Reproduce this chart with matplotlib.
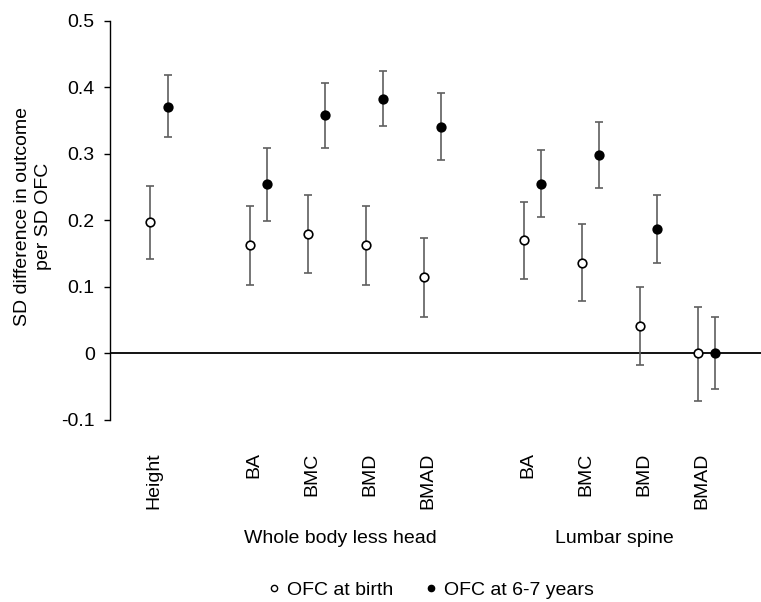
import matplotlib
matplotlib.use("Agg")
import matplotlib.pyplot as plt
import matplotlib.transforms as mtransforms
from matplotlib.lines import Line2D
import numpy as np

plt.rcParams['font.family'] = ['Liberation Sans', 'DejaVu Sans']
plt.rcParams['font.size'] = 14

# categories
groups = ["", "Whole body less head", "Lumbar spine"]
group_items = [["Height"], ["BA", "BMC", "BMD", "BMAD"], ["BA", "BMC", "BMD", "BMAD"]]

# OFC at birth: estimate, lower CI, upper CI
birth = [0.197, 0.163, 0.180, 0.163, 0.114, 0.171, 0.136, 0.041, 0.000]
birth_lo = [0.142, 0.103, 0.121, 0.103, 0.055, 0.112, 0.079, -0.018, -0.072]
birth_hi = [0.252, 0.221, 0.238, 0.221, 0.173, 0.228, 0.194, 0.100, 0.070]

# OFC at 6-7 years
later = [0.371, 0.254, 0.358, 0.382, 0.340, 0.255, 0.298, 0.187, 0.000]
later_lo = [0.325, 0.199, 0.309, 0.341, 0.291, 0.205, 0.248, 0.135, -0.054]
later_hi = [0.418, 0.308, 0.407, 0.424, 0.391, 0.306, 0.347, 0.238, 0.055]

gap = 1.72
pos = []
centers = []
start = 0.0
for items in group_items:
    p = [start + i for i in range(len(items))]
    pos += p
    centers.append(np.mean(p))
    start = p[-1] + gap
pos = np.array(pos)
labels = [l for items in group_items for l in items]

fig = plt.figure(figsize=(7.61, 6.02), dpi=100)
ax = fig.add_axes([0.1445, 0.3027, 0.8555, 0.6629])

off = 0.15
ecol = '#5f5f5f'
b = np.array(birth)
l = np.array(later)
ax.errorbar(pos - off, b, yerr=[b - np.array(birth_lo), np.array(birth_hi) - b],
            fmt='o', ms=6.2, mfc='white', mec='black', mew=1.2,
            ecolor=ecol, elinewidth=1.2, capsize=3.2, capthick=1.2, zorder=3)
ax.errorbar(pos + off, l, yerr=[l - np.array(later_lo), np.array(later_hi) - l],
            fmt='o', ms=6.2, mfc='black', mec='black', mew=1.2,
            ecolor=ecol, elinewidth=1.2, capsize=3.2, capthick=1.2, zorder=3)

ax.axhline(0, color='black', lw=1.3, zorder=2)
ax.set_ylim(-0.1, 0.5)
ax.set_xlim(-0.845, 10.38)
ax.set_yticks(np.arange(-0.1, 0.51, 0.1))
ax.set_yticklabels(['-0.1', '0', '0.1', '0.2', '0.3', '0.4', '0.5'])
ax.tick_params(axis='y', direction='out', length=4, width=1, labelsize=14, pad=7)

ax.set_xticks(pos)
ax.set_xticklabels(labels, rotation=90, va='top', ha='center')
ax.tick_params(axis='x', length=0, pad=23.5, labelsize=14)
shift = mtransforms.ScaledTranslation(-5 / 100, 0, fig.dpi_scale_trans)
for t in ax.get_xticklabels():
    t.set_transform(t.get_transform() + shift)

for s in ['top', 'right', 'bottom']:
    ax.spines[s].set_visible(False)
ax.spines['left'].set_linewidth(1)

ax.set_ylabel("SD difference in outcome\nper SD OFC", fontsize=14, va='center',
              linespacing=1.3)
ax.yaxis.set_label_coords(-0.118, 0.51)

trans = mtransforms.blended_transform_factory(ax.transData, fig.transFigure) + shift
for name, c in zip(groups, centers):
    if name:
        ax.text(c, 0.106, name, transform=trans, ha='center', va='center', fontsize=14)

handles = [
    Line2D([], [], ls='none', marker='o', ms=4.5, mfc='white', mec='black', mew=1),
    Line2D([], [], ls='none', marker='o', ms=4.5, mfc='black', mec='black', mew=1),
]
fig.legend(handles, ["OFC at birth", "OFC at 6-7 years"], loc='center',
           bbox_to_anchor=(0.564, 0.02), ncol=2, frameon=False, fontsize=14,
           handletextpad=0.15, columnspacing=1.45, handlelength=1.0)

fig.savefig("out.png", dpi=100)
